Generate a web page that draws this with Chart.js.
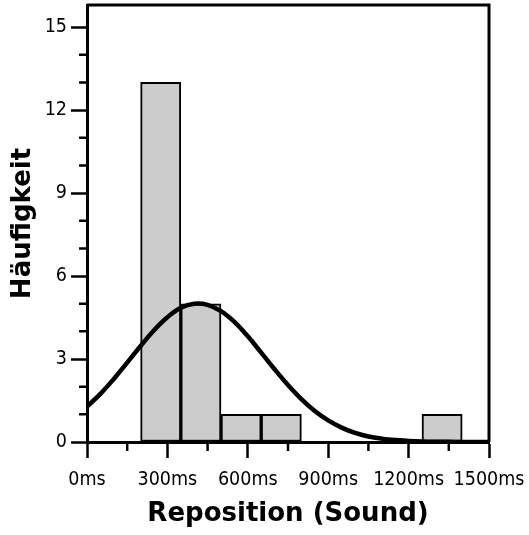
<!DOCTYPE html>
<html>
<head>
<meta charset="utf-8">
<script src="https://cdn.jsdelivr.net/npm/chart.js@4"></script>
<style>
  html, body { margin: 0; padding: 0; background: #fff; }
  canvas { display: block; }
</style>
</head>
<body>
<canvas id="c" width="529" height="535"></canvas>
<script>
// Histogram bins (centers in ms) and counts
const binCenters = [275, 425, 575, 725, 1325];
const binCounts = [13, 5, 1, 1, 1];

// Fitted normal curve
const curveX = [0, 50, 100, 150, 200, 250, 300, 350, 400, 450, 500, 550, 600, 650, 700, 750,
                800, 850, 900, 950, 1000, 1050, 1100, 1150, 1200, 1250, 1300, 1350, 1400, 1450, 1500];
const curveY = [1.28, 1.74, 2.28, 2.87, 3.47, 4.04, 4.51, 4.85, 5.00, 4.96, 4.73, 4.34, 3.82, 3.23, 2.63, 2.06,
                1.55, 1.12, 0.78, 0.52, 0.33, 0.20, 0.12, 0.07, 0.04, 0.02, 0.01, 0.005, 0.002, 0.001, 0.0];

// Axis ticks
const xMajorTicks = [0, 300, 600, 900, 1200, 1500];
const xMinorTicks = [150, 450, 750, 1050, 1350];
const yMajorTicks = [0, 3, 6, 9, 12, 15];
const yMinorTicks = [1, 2, 4, 5, 7, 8, 10, 11, 13, 14];

const xTitle = 'Reposition (Sound)';
const yTitle = 'Häufigkeit';

Chart.defaults.color = '#000';
const tickFont = { family: "'DejaVu Sans Condensed', 'DejaVu Sans', sans-serif", size: 19.5 };
const titleFont = { family: "'DejaVu Sans', sans-serif", size: 26, weight: 'bold' };

const boxPlugin = {
  id: 'boxAndMinor',
  afterDraw(chart) {
    const { ctx, chartArea: a, scales: { x, y } } = chart;
    ctx.save();
    ctx.strokeStyle = '#000';
    ctx.lineWidth = 2.5;
    ctx.beginPath();
    xMinorTicks.forEach(v => {
      const px = x.getPixelForValue(v);
      ctx.moveTo(px, a.bottom);
      ctx.lineTo(px, a.bottom + 9);
    });
    yMinorTicks.forEach(v => {
      const py = y.getPixelForValue(v);
      ctx.moveTo(a.left, py);
      ctx.lineTo(a.left - 8, py);
    });
    ctx.stroke();
    ctx.lineWidth = 3;
    ctx.beginPath();
    ctx.moveTo(a.left, a.top);
    ctx.lineTo(a.right, a.top);
    ctx.lineTo(a.right, a.bottom);
    ctx.stroke();
    ctx.restore();
  }
};

new Chart(document.getElementById('c'), {
  type: 'bar',
  data: {
    datasets: [
      {
        type: 'line',
        data: curveX.map((v, i) => ({ x: v, y: curveY[i] })),
        borderColor: '#000',
        borderWidth: 4.5,
        pointRadius: 0,
        tension: 0.4,
        fill: false,
        order: 0
      },
      {
        type: 'bar',
        data: binCenters.map((v, i) => ({ x: v, y: binCounts[i] })),
        backgroundColor: '#cccccc',
        borderColor: '#000',
        borderWidth: 2,
        borderSkipped: false,
        barPercentage: 1,
        categoryPercentage: 1,
        order: 1
      }
    ]
  },
  options: {
    responsive: false,
    animation: false,
    devicePixelRatio: 1,
    layout: { padding: { top: 5, right: 40, left: 0, bottom: 0 } },
    plugins: { legend: { display: false }, tooltip: { enabled: false } },
    scales: {
      x: {
        type: 'linear',
        min: 0,
        max: 1500,
        offset: false,
        afterFit: s => { s.height = 93; s.paddingLeft = 0; s.paddingRight = 0; },
        afterBuildTicks: s => { s.ticks = xMajorTicks.map(v => ({ value: v })); },
        ticks: {
          autoSkip: false,
          maxRotation: 0,
          padding: 10,
          font: tickFont,
          callback: v => v + 'ms'
        },
        grid: { offset: false, drawOnChartArea: false, drawTicks: true, tickLength: 16, tickWidth: 2.5, tickColor: '#000' },
        border: { display: true, color: '#000', width: 3 },
        title: { display: true, text: xTitle, font: titleFont, padding: { top: 0, bottom: 5 } }
      },
      y: {
        type: 'linear',
        min: 0,
        max: 15.8,
        afterFit: s => { s.width = 87; s.paddingTop = 0; s.paddingBottom = 0; },
        afterBuildTicks: s => { s.ticks = yMajorTicks.map(v => ({ value: v })); },
        ticks: {
          padding: 4,
          font: tickFont
        },
        grid: { drawOnChartArea: false, drawTicks: true, tickLength: 16, tickWidth: 2.5, tickColor: '#000' },
        border: { display: true, color: '#000', width: 3 },
        title: { display: true, text: yTitle, font: titleFont, padding: { top: 8, bottom: 0 } }
      }
    }
  },
  plugins: [boxPlugin]
});
</script>
</body>
</html>
